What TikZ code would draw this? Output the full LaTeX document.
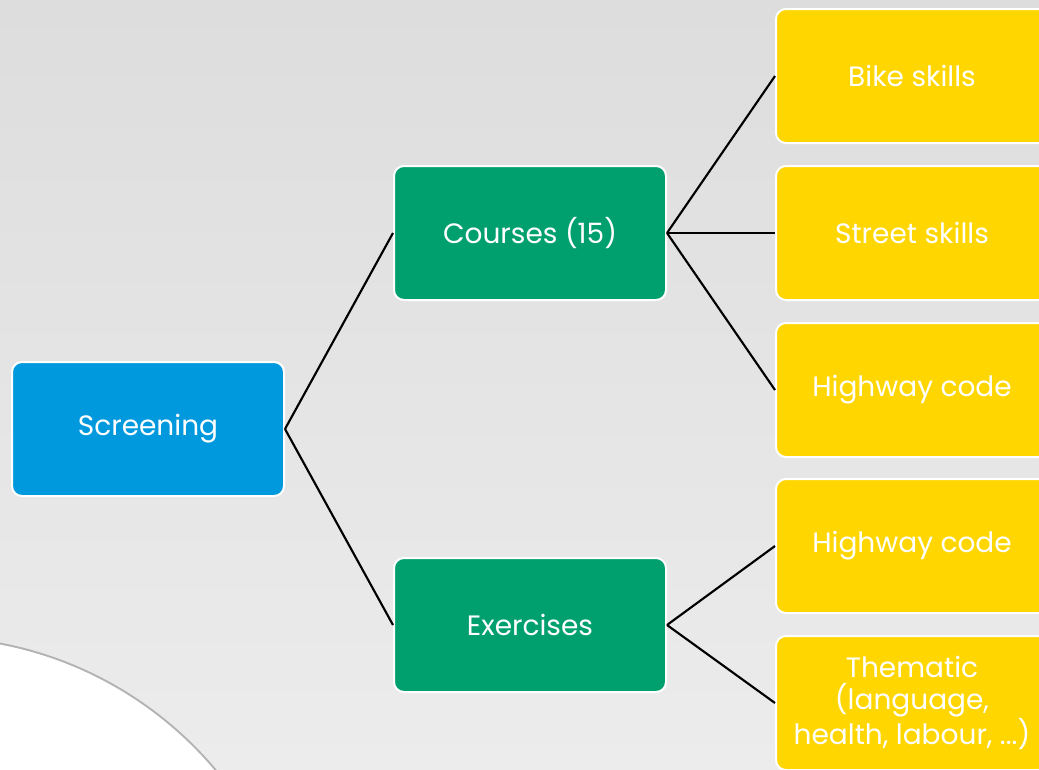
\documentclass[tikz,border=0pt]{standalone}
\usepackage{fontspec}
\setmainfont{Poppins}
\definecolor{screenblue}{RGB}{0,153,222}
\definecolor{coursegreen}{RGB}{0,160,110}
\definecolor{skillyellow}{RGB}{255,214,0}
\tikzset{
    box/.style={draw=white, line width=1.5pt, rounded corners=7.5pt,
        minimum width=204pt, minimum height=100.5pt, text=white,
        align=center, font=\fontsize{21}{24}\selectfont},
    root/.style={box, fill=screenblue},
    branch/.style={box, fill=coursegreen},
    leaf/.style={box, fill=skillyellow},
    link/.style={line width=1.6pt}
}
\begin{document}
\begin{tikzpicture}[x=0.75pt, y=-0.75pt]
            \clip (0,0) rectangle (1039,769);
            \shade[top color={rgb,255:red,221;green,221;blue,221}, bottom color={rgb,255:red,236;green,236;blue,236}] (0,0) rectangle (1039,769);
            \fill[black!30] (-70,1010) circle (374);
            \fill[white] (-70,1010) circle (372);

            \node[root] (screening) at (148,429) {Screening};
            \node[branch] (courses) at (530,233) {Courses (15)};
            \node[branch] (exercises) at (530,625) {Exercises};
            \node[leaf] (bike) at (912,76) {Bike skills};
            \node[leaf] (street) at (912,233) {Street skills};
            \node[leaf] (highway1) at (912,390) {Highway code};
            \node[leaf] (highway2) at (912,546) {Highway code};
            \node[leaf] (thematic) at (912,703) {Thematic\\(language,\\health, labour, ...)};

            \draw[link] (screening.east) -- (courses.west);
            \draw[link] (screening.east) -- (exercises.west);
            \draw[link] (courses.east) -- (bike.west);
            \draw[link] (courses.east) -- (street.west);
            \draw[link] (courses.east) -- (highway1.west);
            \draw[link] (exercises.east) -- (highway2.west);
            \draw[link] (exercises.east) -- (thematic.west);
        \end{tikzpicture}
\end{document}
